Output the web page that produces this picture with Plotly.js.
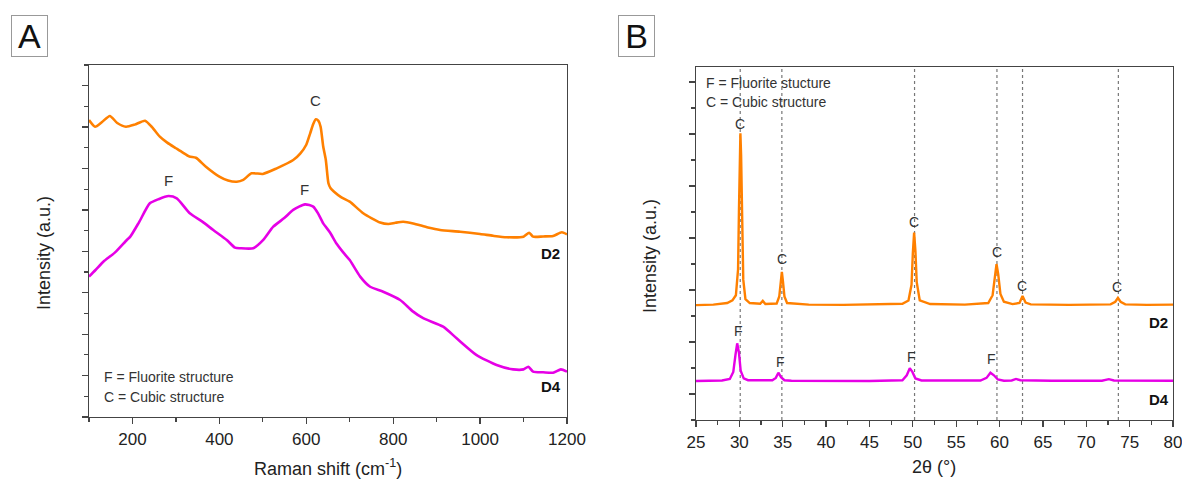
<!DOCTYPE html>
<html>
<head>
<meta charset="utf-8">
<script src="https://cdn.plot.ly/plotly-3.0.1.min.js"></script>
<style>html,body{margin:0;padding:0;background:#fff;}#chart{width:1182px;height:481px;}</style>
</head>
<body>
<div id="chart"></div>
<script>
// ---------- Panel A: Raman spectra ----------
const ramanD2X = [100,114,130,148,165,185,205,229,245,263,280,300,315,331,346,369,400,420,440,455,474,500,532,570,586,600,609,616,622,628,633,639,645,651,656,664,680,700,731,770,789,805,823,846,880,908,954,1000,1030,1061,1100,1113,1122,1145,1168,1188,1200];
const ramanD2Y = [14.34,14.02,14.25,14.54,14.20,14.02,14.12,14.31,14.00,13.54,13.25,12.98,12.78,12.58,12.52,12.09,11.61,11.42,11.36,11.45,11.77,11.74,12.01,12.41,12.72,13.15,13.70,14.15,14.38,14.30,14.02,13.06,12.41,11.29,11.05,10.88,10.62,10.40,9.84,9.39,9.32,9.38,9.43,9.35,9.15,9.03,8.95,8.84,8.75,8.68,8.71,8.90,8.71,8.72,8.74,8.92,8.82];

const ramanD4X = [100,115,133,160,187,195,215,240,260,283,302,332,360,386,417,436,448,478,501,524,550,570,597,616,628,639,655,669,685,700,724,747,777,816,846,869,915,946,992,1038,1076,1100,1111,1122,1145,1168,1186,1200];
const ramanD4Y = [6.78,7.10,7.50,7.95,8.55,8.71,9.40,10.32,10.52,10.67,10.56,9.84,9.45,9.03,8.55,8.18,8.15,8.15,8.55,9.19,9.62,10.00,10.27,10.16,9.80,9.35,8.90,8.39,7.95,7.58,6.78,6.29,6.05,5.65,5.09,4.77,4.36,3.80,2.99,2.51,2.30,2.30,2.43,2.19,2.16,2.14,2.30,2.19];

const ramanLabels = ["C","F","F"];
const ramanLabelX = [622,284,597];
const ramanLabelY = [15.30,11.40,10.97];

// ---------- Panel B: XRD patterns ----------
const xrdD2X = [25,27,28.6,29.2,29.6,29.85,29.95,30.05,30.12,30.2,30.3,30.45,30.7,31.2,32.4,32.7,33.0,34.3,34.6,34.78,34.9,35.02,35.2,35.5,38,42,46,48.8,49.5,49.85,50.0,50.15,50.3,50.45,50.8,52,56,58.7,59.2,59.45,59.65,59.85,60.1,60.5,61.5,62.3,62.65,63.0,63.6,68,72.8,73.35,73.65,73.95,74.5,77,80];
const xrdD2Y = [4.42,4.44,4.50,4.60,4.80,5.80,8.00,10.60,11.03,10.20,7.60,5.40,4.65,4.50,4.47,4.58,4.46,4.48,4.75,5.30,5.70,5.35,4.75,4.50,4.44,4.43,4.44,4.47,4.60,5.20,6.40,7.21,6.50,5.30,4.60,4.46,4.44,4.50,4.80,5.50,6.00,5.60,4.85,4.55,4.46,4.50,4.77,4.52,4.45,4.43,4.45,4.55,4.70,4.55,4.45,4.43,4.44];

const xrdD4X = [25,28,28.9,29.3,29.55,29.75,29.95,30.15,30.5,31,33.8,34.2,34.5,34.8,35.2,36,45,48.8,49.3,49.65,49.95,50.3,51,57.8,58.5,58.95,59.35,59.8,60.5,61.4,61.9,62.4,66,71.8,72.6,73.2,80];
const xrdD4Y = [1.50,1.52,1.58,1.85,2.50,2.95,2.60,1.90,1.60,1.53,1.53,1.62,1.82,1.65,1.53,1.51,1.50,1.53,1.72,1.99,1.85,1.60,1.52,1.52,1.62,1.82,1.72,1.56,1.51,1.52,1.58,1.53,1.51,1.51,1.57,1.52,1.51];

const xrdLines = [30.1,34.9,50.2,59.7,62.65,73.7];
const xrdCLabelX = [30.1,34.9,50.1,59.7,62.6,73.6];
const xrdCLabelY = [11.38,6.19,7.63,6.45,5.17,5.13];
const xrdFLabelX = [29.9,34.7,49.8,59.1];
const xrdFLabelY = [3.44,2.24,2.41,2.35];

// ---------- styling ----------
const ORANGE = "#ff8000";
const MAGENTA = "#e600e6";
const AX = "#444";
const FONT = "Liberation Sans, Arial, sans-serif";

const traces = [
  {x: ramanD2X, y: ramanD2Y, xaxis:"x", yaxis:"y", mode:"lines", line:{color:ORANGE, width:2.6, shape:"spline", smoothing:0.6}, hoverinfo:"skip"},
  {x: ramanD4X, y: ramanD4Y, xaxis:"x", yaxis:"y", mode:"lines", line:{color:MAGENTA, width:2.6, shape:"spline", smoothing:0.6}, hoverinfo:"skip"},
  {x: xrdD2X, y: xrdD2Y, xaxis:"x2", yaxis:"y2", mode:"lines", line:{color:ORANGE, width:2.4}, hoverinfo:"skip"},
  {x: xrdD4X, y: xrdD4Y, xaxis:"x2", yaxis:"y2", mode:"lines", line:{color:MAGENTA, width:2.4}, hoverinfo:"skip"}
];

function axisBase(){
  return {showline:true, mirror:true, linecolor:AX, linewidth:1.4, showgrid:false, zeroline:false,
          ticks:"outside", ticklen:6, tickwidth:1.3, tickcolor:AX, ticklabeloverflow:"allow",
          tickfont:{family:FONT, size:17, color:"#222"}};
}

const xA = Object.assign(axisBase(), {domain:[89/1182, 567/1182], range:[100,1200], tick0:0, dtick:200,
  minor:{dtick:100, ticks:"outside", ticklen:3.5, tickcolor:AX, tickwidth:1.2}, anchor:"y"});
const yA = Object.assign(axisBase(), {domain:[1-417/481, 1-65/481], range:[0,17], tick0:0, dtick:2, showticklabels:false,
  minor:{dtick:1, ticks:"outside", ticklen:3.5, tickcolor:AX, tickwidth:1.2}, anchor:"x"});
const xB = Object.assign(axisBase(), {domain:[696/1182, 1173/1182], range:[25,80], tick0:0, dtick:5,
  minor:{dtick:2.5, ticks:"outside", ticklen:3.5, tickcolor:AX, tickwidth:1.2}, anchor:"y2"});
const yB = Object.assign(axisBase(), {domain:[1-420/481, 1-67/481], range:[0,13.58], tick0:1, dtick:2, showticklabels:false,
  minor:{tick0:0, dtick:1, ticks:"outside", ticklen:3.5, tickcolor:AX, tickwidth:1.2}, anchor:"x2"});

const ann = [];
const lblFont = {family:FONT, size:15, color:"#333"};
for (let i=0;i<ramanLabels.length;i++){
  ann.push({xref:"x", yref:"y", x:ramanLabelX[i], y:ramanLabelY[i], text:ramanLabels[i], showarrow:false, font:lblFont});
}
for (let i=0;i<xrdCLabelX.length;i++){
  ann.push({xref:"x2", yref:"y2", x:xrdCLabelX[i], y:xrdCLabelY[i], text:"C", showarrow:false, font:{family:FONT, size:14, color:"#333"}});
}
for (let i=0;i<xrdFLabelX.length;i++){
  ann.push({xref:"x2", yref:"y2", x:xrdFLabelX[i], y:xrdFLabelY[i], text:"F", showarrow:false, font:{family:FONT, size:14, color:"#333"}});
}
const boldF = {family:FONT, size:15, color:"#111"};
ann.push({xref:"x", yref:"y", x:1161, y:7.92, text:"<b>D2</b>", showarrow:false, font:boldF});
ann.push({xref:"x", yref:"y", x:1164, y:1.45, text:"<b>D4</b>", showarrow:false, font:boldF});
ann.push({xref:"x2", yref:"y2", x:78.3, y:3.76, text:"<b>D2</b>", showarrow:false, font:boldF});
ann.push({xref:"x2", yref:"y2", x:78.4, y:0.78, text:"<b>D4</b>", showarrow:false, font:boldF});

const noteFont = {family:FONT, size:14, color:"#333"};
ann.push({xref:"paper", yref:"paper", x:102/1182, y:1-377/481, xanchor:"left", yanchor:"middle", text:"F = Fluorite structure", showarrow:false, font:noteFont});
ann.push({xref:"paper", yref:"paper", x:102/1182, y:1-397/481, xanchor:"left", yanchor:"middle", text:"C = Cubic structure", showarrow:false, font:noteFont});
ann.push({xref:"paper", yref:"paper", x:704/1182, y:1-83/481, xanchor:"left", yanchor:"middle", text:"F = Fluorite stucture", showarrow:false, font:noteFont});
ann.push({xref:"paper", yref:"paper", x:704/1182, y:1-102/481, xanchor:"left", yanchor:"middle", text:"C = Cubic structure", showarrow:false, font:noteFont});

// axis titles
const titleFont = {family:FONT, size:18, color:"#222"};
ann.push({xref:"paper", yref:"paper", x:328/1182, y:1-467/481, xanchor:"center", yanchor:"middle", text:"Raman shift (cm<sup>-1</sup>)", showarrow:false, font:titleFont});
ann.push({xref:"paper", yref:"paper", x:934/1182, y:1-467/481, xanchor:"center", yanchor:"middle", text:"2θ (°)", showarrow:false, font:titleFont});
ann.push({xref:"paper", yref:"paper", x:44/1182, y:1-253/481, xanchor:"center", yanchor:"middle", textangle:-90, text:"Intensity (a.u.)", showarrow:false, font:titleFont});
ann.push({xref:"paper", yref:"paper", x:650/1182, y:1-256/481, xanchor:"center", yanchor:"middle", textangle:-90, text:"Intensity (a.u.)", showarrow:false, font:titleFont});

// panel letters
ann.push({xref:"paper", yref:"paper", x:29.5/1182, y:1-36/481, xanchor:"center", yanchor:"middle", text:"A", showarrow:false,
  font:{family:FONT, size:34, color:"#111"}, bordercolor:"#999", borderwidth:1, bgcolor:"#fff", width:35, height:40, borderpad:0});
ann.push({xref:"paper", yref:"paper", x:636.5/1182, y:1-36/481, xanchor:"center", yanchor:"middle", text:"B", showarrow:false,
  font:{family:FONT, size:34, color:"#111"}, bordercolor:"#999", borderwidth:1, bgcolor:"#fff", width:35, height:40, borderpad:0});

const shapes = xrdLines.map(v => ({type:"line", xref:"x2", yref:"y2 domain", x0:v, x1:v, y0:0, y1:1,
  line:{color:"#777", width:1.2, dash:"dot"}, layer:"below"}));

const layout = {
  width:1182, height:481, margin:{l:0,r:0,t:0,b:0}, paper_bgcolor:"#fff", plot_bgcolor:"rgba(0,0,0,0)",
  showlegend:false, font:{family:FONT},
  xaxis:xA, yaxis:yA, xaxis2:xB, yaxis2:yB,
  annotations:ann, shapes:shapes
};

Plotly.newPlot("chart", traces, layout, {staticPlot:true, displayModeBar:false});
</script>
</body>
</html>
